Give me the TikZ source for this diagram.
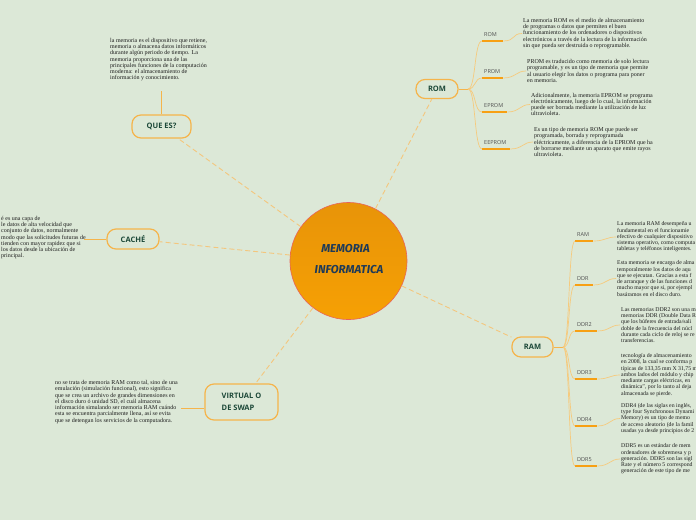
\documentclass[tikz,border=0pt]{standalone}
\usepackage{fontspec}
\setmainfont{Liberation Serif}
\newfontfamily\titlefont{Open Sans}
\newfontfamily\lblfont{Open Sans}
\newfontfamily\hfont{Fira Sans}
\definecolor{bg}{RGB}{220,232,215}
\definecolor{nodeborder}{RGB}{245,180,75}
\definecolor{dashc}{RGB}{244,198,125}
\definecolor{branchc}{RGB}{246,202,125}
\definecolor{ulinec}{RGB}{247,160,20}
\definecolor{titlec}{RGB}{28,72,56}
\definecolor{bodyc}{RGB}{28,28,28}
\definecolor{lblc}{RGB}{80,80,80}
\definecolor{circtop}{RGB}{232,148,8}
\definecolor{circmid}{RGB}{255,168,0}
\definecolor{circbot}{RGB}{246,160,4}
\definecolor{circborder}{RGB}{232,100,90}
\definecolor{circtext}{RGB}{30,58,88}
\begin{document}
\begin{tikzpicture}[x=1pt,y=-1pt,
  mainbox/.style={draw=nodeborder, line width=1.2pt, rounded corners=9pt, fill=bg,
    font=\titlefont\bfseries\fontsize{7.5}{9}\selectfont, text=titlec, inner sep=2pt},
  body/.style={font=\fontsize{6}{6.25}\selectfont, text=bodyc, align=left, inner sep=1pt},
  bodyr/.style={body, font=\fontsize{5.8}{6.25}\selectfont},
  lbl/.style={font=\lblfont\fontsize{5.5}{6}\selectfont, text=lblc, align=left,
    inner xsep=2pt, inner ysep=4.5pt, anchor=south west},
  uline/.style={draw=ulinec, line width=1.6pt},
  branch/.style={draw=branchc, line width=0.7pt},
  solidconn/.style={draw=nodeborder, line width=0.8pt},
  dashconn/.style={draw=dashc, line width=0.9pt, dash pattern=on 5pt off 3pt},
  circletext/.style={font=\hfont\bfseries\itshape\fontsize{11.5}{13}\selectfont, text=circtext, inner sep=0pt}
]
\useasboundingbox (0,0) rectangle (696,520);
\fill[bg] (0,0) rectangle (696,520);
\clip (0,0) rectangle (696,520);

% central circle
\node[circle, minimum size=117pt, inner sep=0pt, draw=circborder, line width=0.6pt,
  top color=circtop, middle color=circmid, bottom color=circbot] (mem) at (348.5,261) {};
\node[circletext] (m1) at (345.5,249) {MEMORIA};
\node[circletext] (m2) at (349,270) {INFORMATICA};

% main nodes
\node[mainbox, minimum width=59pt, minimum height=23pt] (quees) at (161.5,126.5) {QUE ES?};
\node[mainbox, minimum width=52pt, minimum height=20pt] (cache) at (133,239) {CACHÉ};
\node[mainbox, minimum width=42pt, minimum height=19pt] (rom) at (437,89) {ROM};
\node[mainbox, minimum width=41pt, minimum height=20pt] (ram) at (532.5,347) {RAM};
\node[mainbox, minimum width=73pt, minimum height=36pt, align=left,
  font=\titlefont\bfseries\fontsize{7.5}{12}\selectfont] (virt) at (241.5,402) {VIRTUAL O\\DE SWAP};

% dashed connectors
\draw[dashconn] (mem) -- (quees);
\draw[dashconn] (mem) -- (cache);
\draw[dashconn] (mem) -- (rom);
\draw[dashconn] (mem) -- (ram);
\draw[dashconn] (mem) -- (virt);

% QUE ES?
\node[body, anchor=north west] (quetext) at (109,37) {la memoria es el dispositivo que retiene,\\memoria o almacena datos informáticos\\durante algún periodo de tiempo. La\\memoria proporciona una de las\\principales funciones de la computación\\moderna: el almacenamiento de\\información y conocimiento.};
\coordinate (qtop) at (161.5,91);
\draw[solidconn] (quees.north) -- (qtop);

% CACHE
\node[body, anchor=north west] (cachetext) at (0,215) {é es una capa de\\le datos de alta velocidad que\\conjunto de datos, normalmente\\modo que las solicitudes futuras de\\tienden con mayor rapidez que si\\los datos desde la ubicación de\\principal.};
\coordinate (cend) at (84,239);
\draw[solidconn] (cache.west) -- (cend);

% VIRTUAL
\node[body, anchor=west] (virttext) at (54,402) {no se trata de memoria RAM como tal, sino de una\\emulación (simulación funcional), esto significa\\que se crea un archivo de grandes dimensiones en\\el disco duro ó unidad SD, el cuál almacena\\información simulando ser memoria RAM cuándo\\esta se encuentra parcialmente llena, así se evita\\que se detengan los servicios de la computadora.};
\coordinate (vend) at (181,408);
\draw[solidconn] (virt.west |- vend) -- (vend);

% ROM tree
\coordinate (romj) at (468,89);
\draw[solidconn] (rom.east) -- (romj);

\node[lbl, text width=17pt] (lrom) at (482,41) {ROM};
\node[lbl, text width=17pt] (lprom) at (482,78) {PROM};
\node[lbl, text width=21pt] (leprom) at (482,112) {EPROM};
\node[lbl, text width=24pt] (leeprom) at (482,149) {EEPROM};
\foreach \n in {lrom,lprom,leprom,leeprom}{
  \draw[uline] (\n.south west) -- (\n.south east);
  \draw[branch] (romj) .. controls +(8,0) and +(-8,0) .. (\n.south west);
}
\node[body, anchor=west] (trom) at (522,33.5) {La memoria ROM es el medio de almacenamiento\\de programas o datos que permiten el buen\\funcionamiento de los ordenadores o dispositivos\\electrónicos a través de la lectura de la información\\sin que pueda ser destruida o reprogramable.};
\node[body, anchor=west] (tprom) at (526,71) {PROM es traducido como memoria de solo lectura\\programable, y es un tipo de memoria que permite\\al usuario elegir los datos o programa para poner\\en memoria.};
\node[body, anchor=west] (teprom) at (530,104.5) {Adicionalmente, la memoria EPROM se programa\\electrónicamente, luego de lo cual, la información\\puede ser borrada mediante la utilización de luz\\ultravioleta.};
\node[body, anchor=west] (teeprom) at (533,142) {Es un tipo de memoria ROM que puede ser\\programada, borrada y reprogramada\\eléctricamente, a diferencia de la EPROM que ha\\de borrarse mediante un aparato que emite rayos\\ultravioleta.};
\draw[branch] (lrom.south east) .. controls +(12,0) and +(-10,0) .. (trom.west);
\draw[branch] (lprom.south east) .. controls +(12,0) and +(-10,0) .. (tprom.west);
\draw[branch] (leprom.south east) .. controls +(12,0) and +(-10,0) .. (teprom.west);
\draw[branch] (leeprom.south east) .. controls +(12,0) and +(-10,0) .. (teeprom.west);

% RAM tree
\coordinate (ramj) at (563,347);
\draw[solidconn] (ram.east) -- (ramj);
\node[lbl, text width=14pt] (lram) at (575,241) {RAM};
\node[lbl, text width=14pt] (lddr) at (575,285) {DDR};
\node[lbl, text width=18pt] (lddr2) at (575,331) {DDR2};
\node[lbl, text width=18pt] (lddr3) at (575,379) {DDR3};
\node[lbl, text width=18pt] (lddr4) at (575,426) {DDR4};
\node[lbl, text width=18pt] (lddr5) at (575,466) {DDR5};
\foreach \n in {lram,lddr,lddr2,lddr3,lddr4,lddr5}{
  \draw[uline] (\n.south west) -- (\n.south east);
  \draw[branch] (ramj) .. controls +(7,0) and +(-7,0) .. (\n.south west);
}
\node[bodyr, anchor=west] (tram) at (616,237) {La memoria RAM desempeña u\\fundamental en el funcionamie\\efectivo de cualquier dispositivo\\sistema operativo, como computa\\tabletas y teléfonos inteligentes.};
\node[bodyr, anchor=west] (tddr) at (616,278.5) {Esta memoria se encarga de alma\\temporalmente los datos de aqu\\que se ejecutan. Gracias a esta f\\de arranque y de las funciones d\\mucho mayor que si, por ejempl\\basáramos en el disco duro.};
\node[bodyr, anchor=west] (tddr2) at (620,325) {Las memorias DDR2 son una m\\memorias DDR (Double Data R\\que los búferes de entrada/sali\\doble de la frecuencia del núcl\\durante cada ciclo de reloj se re\\transferencias.};
\node[bodyr, anchor=west] (tddr3) at (620,375) {tecnología de almacenamiento\\en 2008, la cual se conforma p\\típicas de 133,35 mm X 31,75 m\\ambos lados del módulo y chip\\mediante cargas eléctricas, en\\dinámica”, por lo tanto al deja\\almacenada se pierde.};
\node[bodyr, anchor=west] (tddr4) at (620,418.5) {DDR4 (de las siglas en inglés,\\type four Synchronous Dynami\\Memory) es un tipo de memo\\de acceso aleatorio (de la famil\\usadas ya desde principios de 2};
\node[bodyr, anchor=west] (tddr5) at (620,459) {DDR5 es un estándar de mem\\ordenadores de sobremesa y p\\generación. DDR5 son las sigl\\Rate y el número 5 correspond\\generación de este tipo de me};
\foreach \a/\b in {lram/tram,lddr/tddr,lddr2/tddr2,lddr3/tddr3,lddr4/tddr4,lddr5/tddr5}{
  \draw[branch] (\a.south east) .. controls +(12,0) and +(-10,0) .. (\b.west);
}
\end{tikzpicture}
\end{document}
